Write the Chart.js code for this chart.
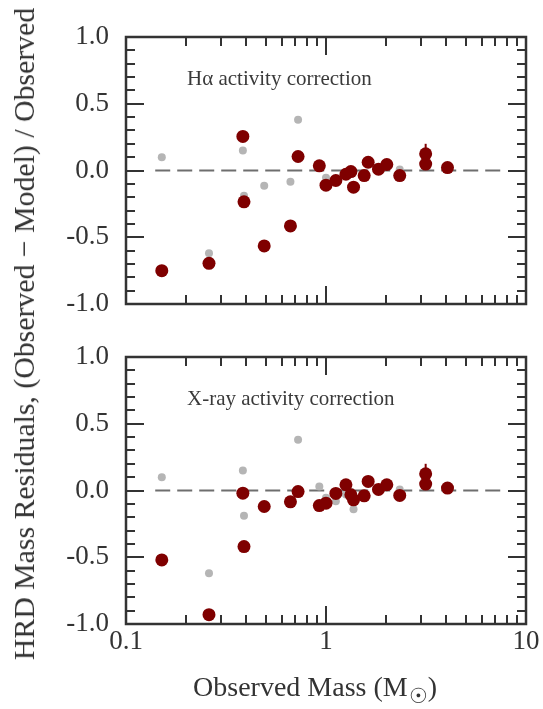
<!DOCTYPE html>
<html>
<head>
<meta charset="utf-8">
<script src="https://cdn.jsdelivr.net/npm/chart.js@4"></script>
<style>
  body { margin: 0; background: #fff; }
  #wrap { position: relative; width: 543px; height: 709px; overflow: hidden; font-family: "Liberation Serif", "DejaVu Serif", serif; color: #333; }
  canvas { position: absolute; left: 0; }
  #ytitle { position: absolute; left: 24px; top: 334px; transform: translate(-50%, -50%) rotate(-90deg); white-space: nowrap; font-size: 29.8px; }
  #xtitle { position: absolute; left: 315px; top: 690px; transform: translate(-50%, -50%); white-space: nowrap; font-size: 28px; }
  #xtitle sub { font-size: 21px; vertical-align: -7px; margin-left: 1px; }
</style>
</head>
<body>
<div id="wrap">
  <canvas id="topPanel" width="543" height="338" style="top:0"></canvas>
  <canvas id="bottomPanel" width="543" height="386" style="top:323px"></canvas>
  <div id="ytitle">HRD Mass Residuals, (Observed − Model) / Observed</div>
  <div id="xtitle">Observed Mass (M<sub>☉</sub>)</div>
</div>
<script>
// ---- data ----
const mass = [0.151, 0.26, 0.384, 0.389, 0.491, 0.664, 0.725, 0.926, 1.0, 1.12, 1.258,
              1.332, 1.373, 1.552, 1.625, 1.83, 2.014, 2.337, 3.15, 3.15, 4.05];
// residuals without any activity correction (grey)
const residRaw = [0.10, -0.62, 0.15, -0.19, -0.115, -0.085, 0.38, 0.03, -0.055, -0.08, -0.03,
                  -0.01, -0.14, -0.04, 0.06, 0.01, 0.045, 0.008, 0.125, 0.048, 0.022];
// residuals after H-alpha based correction
const residHalpha = [-0.75, -0.695, 0.255, -0.235, -0.565, -0.415, 0.105, 0.035, -0.11, -0.075, -0.028,
                     -0.008, -0.125, -0.038, 0.062, 0.01, 0.045, -0.038, 0.125, 0.048, 0.022];
// residuals after X-ray based correction
const residXray = [-0.52, -0.93, -0.02, -0.42, -0.12, -0.085, -0.008, -0.113, -0.095, -0.022, 0.043,
                   -0.032, -0.07, -0.04, 0.068, 0.008, 0.043, -0.037, 0.125, 0.048, 0.018];
// residual uncertainties
const residErr = [0, 0, 0, 0, 0, 0, 0, 0, 0, 0, 0,
                  0, 0, 0, 0, 0, 0, 0, 0.075, 0.03, 0];

const xTickValues = [0.1, 1, 10];
const xTickLabels = ["0.1", "1", "10"];
const xMinorValues = [0.2, 0.3, 0.4, 0.5, 0.6, 0.7, 0.8, 0.9, 2, 3, 4, 5, 6, 7, 8, 9];
const yTickValues = [-1, -0.5, 0, 0.5, 1];
const yTickLabels = ["-1.0", "-0.5", "0.0", "0.5", "1.0"];
const yMinorValues = [-0.9, -0.8, -0.7, -0.6, -0.4, -0.3, -0.2, -0.1, 0.1, 0.2, 0.3, 0.4, 0.6, 0.7, 0.8, 0.9];
const zeroLineX = [0.14, 8];

const INK = "#333333";
const RED = "#7f0000";
const GREY = "#b5b5b5";

// frame, inward ticks, error bars and panel label
const panelDecor = {
  id: "panelDecor",
  beforeDatasetsDraw(chart) {
    const ctx = chart.ctx, x = chart.scales.x, y = chart.scales.y;
    const vals = chart.options.plugins.panelDecor.values;
    ctx.save();
    ctx.strokeStyle = RED;
    ctx.lineWidth = 2;
    mass.forEach((m, i) => {
      if (!residErr[i]) return;
      const px = x.getPixelForValue(m);
      ctx.beginPath();
      ctx.moveTo(px, y.getPixelForValue(vals[i] - residErr[i]));
      ctx.lineTo(px, y.getPixelForValue(vals[i] + residErr[i]));
      ctx.stroke();
    });
    ctx.restore();
  },
  afterDraw(chart) {
    const ctx = chart.ctx, a = chart.chartArea, x = chart.scales.x, y = chart.scales.y;
    ctx.save();
    ctx.strokeStyle = INK;
    ctx.lineWidth = 2;
    const hTick = (v, len) => {
      const py = Math.round(y.getPixelForValue(v));
      ctx.beginPath();
      ctx.moveTo(a.left, py); ctx.lineTo(a.left + len, py);
      ctx.moveTo(a.right, py); ctx.lineTo(a.right - len, py);
      ctx.stroke();
    };
    const vTick = (v, len) => {
      const px = Math.round(x.getPixelForValue(v));
      ctx.beginPath();
      ctx.moveTo(px, a.top); ctx.lineTo(px, a.top + len);
      ctx.moveTo(px, a.bottom); ctx.lineTo(px, a.bottom - len);
      ctx.stroke();
    };
    yMinorValues.forEach(v => hTick(v, 9));
    yTickValues.forEach(v => hTick(v, 18));
    xMinorValues.forEach(v => vTick(v, 9));
    xTickValues.forEach(v => vTick(v, 18));
    ctx.lineWidth = 2.5;
    ctx.strokeRect(a.left, a.top, a.right - a.left, a.bottom - a.top);

    ctx.fillStyle = "#3a3a3a";
    ctx.font = '21px "Liberation Serif"';
    ctx.textBaseline = "middle";
    ctx.fillText(chart.options.plugins.panelDecor.label, a.left + 61, a.top + 42);
    ctx.restore();
  }
};

// padTop / xHeight leave room for the y tick labels (half line height + padding)
function makePanel(id, corrected, label, showX, padTop, xHeight) {
  const pts = arr => mass.map((m, i) => ({ x: m, y: arr[i] }));
  return new Chart(document.getElementById(id), {
    type: "scatter",
    data: {
      datasets: [
        {
          data: pts(corrected),
          pointRadius: 6.5,
          pointBackgroundColor: RED,
          pointBorderWidth: 0,
          order: 0
        },
        {
          data: pts(residRaw),
          pointRadius: 4,
          pointBackgroundColor: GREY,
          pointBorderWidth: 0,
          order: 1
        },
        {
          type: "line",
          data: zeroLineX.map(v => ({ x: v, y: 0 })),
          borderColor: "#6e6e6e",
          borderWidth: 2,
          borderDash: [15, 7],
          pointRadius: 0,
          order: 2
        }
      ]
    },
    options: {
      responsive: false,
      animation: false,
      layout: { padding: { top: padTop, right: 17, left: 0, bottom: 0 } },
      plugins: {
        legend: { display: false },
        tooltip: { enabled: false },
        panelDecor: { label: label, values: corrected }
      },
      scales: {
        x: {
          type: "logarithmic",
          min: 0.1,
          max: 10,
          grid: { display: false, drawTicks: false, tickLength: 0 },
          border: { display: false },
          afterBuildTicks: s => { s.ticks = xTickValues.map(v => ({ value: v })); },
          afterFit: s => { s.height = xHeight; },
          ticks: {
            display: showX,
            autoSkip: false,
            maxRotation: 0,
            padding: 2,
            color: INK,
            font: { family: "Liberation Serif", size: 27 },
            callback: (v, i) => xTickLabels[i]
          }
        },
        y: {
          min: -1,
          max: 1,
          grid: { display: false, drawTicks: false, tickLength: 0 },
          border: { display: false },
          afterBuildTicks: s => { s.ticks = yTickValues.map(v => ({ value: v })); },
          afterFit: s => { s.width = 126; },
          ticks: {
            padding: 17,
            color: INK,
            font: { family: "Liberation Serif", size: 27 },
            callback: (v, i) => yTickLabels[i]
          }
        }
      }
    },
    plugins: [panelDecor]
  });
}

makePanel("topPanel", residHalpha, "Hα activity correction", false, 37, 34);
makePanel("bottomPanel", residXray, "X-ray activity correction", true, 34, 85);
</script>
</body>
</html>
